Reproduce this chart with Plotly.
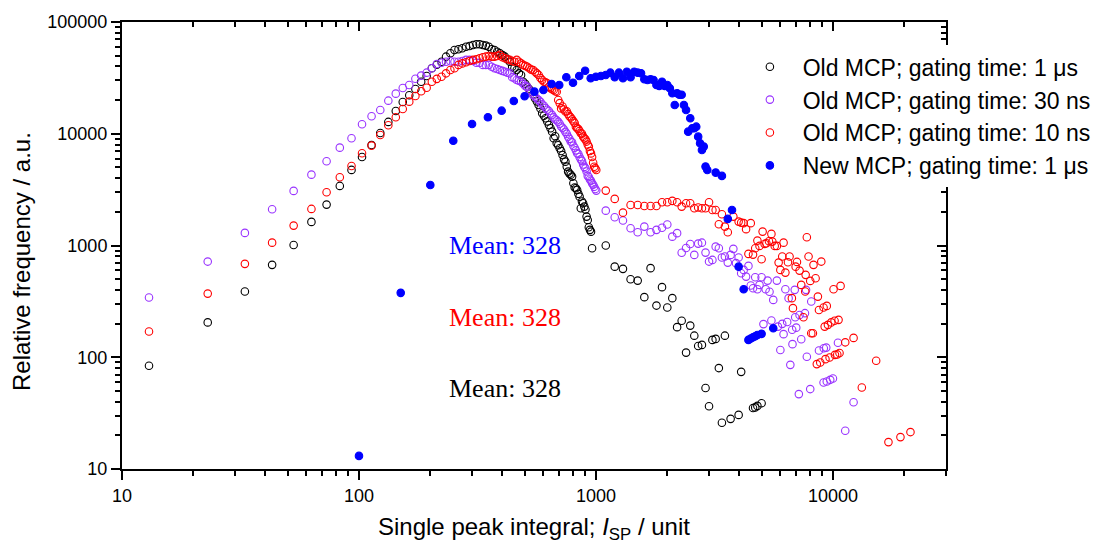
import plotly.graph_objects as go

# ---- Old MCP, gating time 1 us (black open circles) ----
old_1us_x = [13, 23, 33, 43, 53, 63, 73, 83, 93, 103, 113, 123, 133, 143, 153, 163, 173, 183, 193,
             203, 213, 223, 233, 243, 253, 263, 273, 283, 293, 303, 313, 323, 333, 343, 353, 363,
             373, 383, 393, 403, 413, 423, 433, 443, 453, 463, 473, 483, 493, 503, 513, 523, 533,
             543, 553, 563, 573, 583, 593, 603, 613, 623, 633, 643, 653, 663, 673, 683, 693, 703,
             713, 723, 733, 743, 753, 763, 773, 783, 793, 803, 813, 823, 833, 843, 853, 863, 873,
             883, 893, 903, 913, 923, 933, 943, 953, 963,
             1100, 1200, 1300, 1400, 1500, 1600, 1700, 1800, 1900, 2000, 2100, 2200, 2300, 2400,
             2500, 2600, 2700, 2800, 2900, 3000, 3100, 3200, 3300, 3400, 3500, 3700, 4000, 4100,
             4600, 4700, 4800, 5000]
old_1us_y = [84, 205, 387, 671, 1010, 1626, 2323, 3413, 4746, 6200, 7940, 10160, 12760, 16000, 19250,
             22100, 25170, 29240, 32880, 38500, 41500, 44150, 48950, 52480, 56180, 57000, 58200,
             60100, 61000, 62270, 63150, 63150, 62270, 61500, 60100, 57000, 56180, 54250, 52480,
             50500, 48950, 46500, 44150, 39800, 38500, 37220, 34730, 33560, 29240, 28000, 26270,
             25000, 23800, 22500, 20800, 19500, 18100, 16800, 15250, 14500, 13760, 12900, 11990,
             11200, 10440, 9114, 9500, 8225, 7900, 7420, 7000, 6460, 5900, 5630, 5080, 4583, 4400,
             4300, 4134, 3603, 3300, 3250, 3140, 2900, 2737, 2155, 2473, 2388, 2228, 2100, 1814,
             1694, 1455, 1380, 1330, 946,
             1000, 647, 618, 499, 485, 345, 627, 290, 424, 279, 338, 186, 212, 110,
             192, 156, 126, 129, 53, 36.4, 143, 146, 80, 25.9, 156, 28.1, 30.5, 74,
             35.1, 35.6, 36.7, 38.8]

# ---- Old MCP, gating time 30 ns (violet open circles) ----
old_30ns_x = [13, 23, 33, 43, 53, 63, 73, 83, 93, 103, 113, 123, 133, 143, 153, 163, 173, 183, 193,
              203, 213, 223, 233, 243, 253, 263, 273, 283, 293, 303, 313, 323, 333, 343, 353, 363,
              373, 383, 393, 403, 413, 423, 433, 443, 453, 463, 473, 483, 493, 503, 513, 523, 533,
              543, 553, 563, 573, 583, 593, 603, 613, 623, 633, 643, 653, 663, 673, 683, 693, 703,
              713, 723, 733, 743, 753, 763, 773, 783, 793, 803, 813, 823, 833, 843, 853, 863, 873,
              883, 893, 903, 913, 923, 933, 943, 953, 963, 973, 983, 993, 1003,
              1100, 1200, 1300, 1400, 1500, 1600, 1700, 1800, 1900, 2000, 2100, 2200, 2300, 2400,
              2500, 2600, 2700, 2800, 2900, 3000, 3100, 3200, 3300, 3400, 3500, 3600, 3700, 3800,
              3900, 4000, 4100, 4200, 4300, 4400, 4500, 4600, 4700, 4800, 4900, 5000, 5090, 5200,
              5300, 5400, 5500, 5600, 5800, 5860, 6000, 6110, 6190, 6300, 6410, 6500, 6610, 6730,
              6750, 6900, 6930, 7000, 7180, 7230, 7350, 7620, 7700, 7760, 8020, 8100, 8730, 9130,
              9150, 9370, 9420, 9740, 10000, 10500, 11270, 12220]
old_30ns_y = [342, 718, 1297, 2112, 3080, 4307, 5675, 7510, 9116, 12160, 14340, 16320, 19770, 22850,
              25700, 27330, 31100, 33100, 35200, 38500, 42100, 43250, 44150, 44500, 44150, 44150,
              44800, 45800, 45800, 44800, 43250, 43250, 41300, 41300, 41300, 39800, 38500, 38000,
              37200, 36500, 35900, 35200, 34730, 32000, 31350, 30300, 29800, 29240, 28000, 26800,
              26270, 24500, 23500, 22240, 21400, 20700, 20050, 19300, 18300, 17800, 17000, 16400,
              16000, 15200, 14730, 14000, 13500, 13200, 12800, 12300, 11600, 11300, 10900, 10400,
              10000, 9400, 9000, 8500, 8400, 7800, 7500, 7100, 6700, 6600, 6200, 5900, 5700, 5300,
              5050, 4900, 4600, 4200, 4100, 3900, 3800, 3600, 3500, 3350, 3200, 3100,
              2051, 1790, 1672, 1428, 1315, 1476, 1315, 1380, 1440, 1540, 1200, 1290, 860, 950,
              1030, 824, 1040, 1060, 864, 718, 743, 977, 946, 780, 796, 703, 824, 933,
              695, 780, 565, 605, 527, 657, 438, 415, 520, 406, 444, 520, 198, 406,
              485, 385, 213, 326, 485, 188, 116, 199, 161, 406, 207, 338, 85.5, 176,
              131, 401, 228, 184, 46.8, 239, 145, 248, 401, 101, 51.9, 315, 115, 59.4,
              120.5, 122, 60.7, 62.8, 64.6, 135, 22, 39.6]

# ---- Old MCP, gating time 10 ns (red open circles) ----
old_10ns_x = [13, 23, 33, 43, 53, 63, 73, 83, 93, 103, 113, 123, 133, 143, 153, 163, 173, 183, 193,
              203, 213, 223, 233, 243, 253, 263, 273, 283, 293, 303, 313, 323, 333, 343, 353, 363,
              373, 383, 393, 403, 413, 423, 433, 443, 453, 463, 473, 483, 493, 503, 513, 523, 533,
              543, 553, 563, 573, 583, 593, 603, 613, 623, 633, 643, 653, 663, 673, 683, 693, 703,
              713, 723, 733, 743, 753, 763, 773, 783, 793, 803, 813, 823, 833, 843, 853, 863, 873,
              883, 893, 903, 913, 923, 933, 943, 953, 963, 973, 983, 993, 1003,
              1100, 1200, 1300, 1400, 1500, 1600, 1700, 1800, 1900, 2000, 2100, 2200, 2300, 2400,
              2500, 2600, 2700, 2800, 2900, 3000, 3100, 3200, 3300, 3400, 3500, 3600, 3800, 4000,
              4100, 4200, 4300, 4400, 4500, 4600, 4700, 4800, 4900, 5000, 5050, 5150, 5240, 5370,
              5500, 5550, 5680, 5800, 5900, 6000, 6110, 6190, 6300, 6460, 6560, 6710, 6780, 6960,
              7050, 7230, 7350, 7510, 7640, 7670, 7760, 7890, 8020, 8100, 8230, 8280, 8450, 8550,
              8640, 8730, 8840, 8930, 9130, 9230, 9300, 9420, 9525, 9680, 9840, 10060, 10160,
              10200, 10430, 10560, 10660, 10770, 11270, 12220, 13240, 15220, 17150, 19270, 21240]
old_10ns_y = [170, 371, 685, 1061, 1507, 2125, 2997, 4083, 5150, 6690, 7825, 9760, 11910, 14050,
              16660, 19370, 21780, 23990, 25840, 29240, 31000, 32400, 34730, 37220, 38530, 41300,
              42600, 43600, 44800, 45800, 46400, 47400, 48350, 48950, 49660, 49000, 48950, 49660,
              50800, 48350, 47400, 46400, 46000, 44800, 44150, 45800, 44150, 42600, 41300, 40500,
              39800, 38530, 37500, 37220, 35900, 34700, 33560, 31500, 30300, 29240, 28800, 28300,
              26270, 25540, 25000, 24660, 24000, 23800, 20050, 18800, 16860, 17550, 16500, 15800,
              15900, 15000, 14340, 14000, 13500, 12960, 12500, 11570, 11200, 11000, 10600, 10100,
              10000, 9420, 9114, 8900, 8510, 8000, 7670, 7000, 6670, 6200, 5500, 5060, 4900, 4740,
              3098, 2612, 1968, 2307, 2307, 2260, 2260, 2260, 2439, 2439, 2506, 2439, 2228, 2389,
              2389, 2157, 2190, 2157, 2157, 2439, 2081, 2081, 1551, 1905, 1476, 1315, 1814, 1636,
              1603, 1585, 1400, 841, 1585, 829, 946, 1106, 992, 754, 1331, 1033, 1048, 1093,
              1270, 1084, 992, 992, 703, 605, 796, 1061, 572, 709, 796, 338, 275, 647,
              713, 596, 444, 228, 387, 546, 1186, 796, 482, 164, 164, 671, 510, 86.8,
              349, 265, 89.7, 718, 279, 188, 96.2, 288, 195, 99.4, 205, 406, 212,
              105, 106, 216, 109, 435, 136, 149, 53.6, 92.9, 17.4, 19.3, 21.4]

# ---- New MCP, gating time 1 us (blue filled circles) ----
new_1us_x = [100, 150, 200, 250, 300, 350, 400, 450, 500, 550, 600, 650, 700, 750, 800, 850, 900,
             950, 1000, 1050, 1100, 1150, 1200, 1250, 1300, 1350, 1400, 1450, 1500, 1550, 1600,
             1650, 1700, 1750, 1800, 1850, 1900, 1950, 2000, 2050, 2100, 2150, 2200, 2250, 2300,
             2350, 2400, 2450, 2500, 2550, 2600, 2650, 2700, 2750, 2800, 2850, 2900, 2950, 3200,
             3400, 3600, 3750, 4000, 4200, 4400, 4500, 4600, 4700, 4800, 5000, 5600]
new_1us_y = [13.1, 377, 3480, 8670, 12230, 14050, 16090, 19650, 21650, 23810, 24640, 27880, 27330,
             32000, 28640, 32880, 36680, 31350, 32400, 32880, 33560, 35200, 32000, 35200, 31350,
             35900, 32000, 35900, 35200, 34730, 30730, 30300, 30730, 30300, 27330, 26810, 29240,
             26810, 27330, 25540, 23010, 18100, 23010, 22330, 22330, 18100, 16320, 10440, 13760,
             11200, 11200, 11570, 9420, 8220, 7160, 7670, 5080, 4745, 4490, 4195, 1730, 2080,
             647, 406, 143, 147, 151, 154, 158, 162, 182]

series_names = ["Old MCP; gating time: 1 \u03bcs",
                "Old MCP; gating time: 30 ns",
                "Old MCP; gating time: 10 ns",
                "New MCP; gating time: 1 \u03bcs"]
series_colors = ["#000000", "#9933FF", "#FF0000", "#0000FF"]

mean_labels = ["Mean: 328", "Mean: 328", "Mean: 328"]
mean_colors = ["#0000FF", "#FF0000", "#000000"]
mean_ypos = [0.499, 0.340, 0.181]

x_title = "Single peak integral; <i>I</i><sub>SP</sub> / unit"
y_title = "Relative frequency / a.u."

SANS = "Arial, Liberation Sans, sans-serif"
SERIF = "Times New Roman, Liberation Serif, serif"
PAD = "\u00a0\u00a0"
TICK = "black"

fig = go.Figure()
datasets = [(old_1us_x, old_1us_y), (old_30ns_x, old_30ns_y),
            (old_10ns_x, old_10ns_y), (new_1us_x, new_1us_y)]
for i, (xs, ys) in enumerate(datasets):
    filled = i == 3
    fig.add_trace(go.Scatter(
        x=xs, y=ys, mode="markers", name=PAD + series_names[i],
        marker=dict(symbol="circle" if filled else "circle-open",
                    size=7.5, color=series_colors[i],
                    line=dict(width=1.1, color=series_colors[i])),
    ))

# invisible trace so the mirrored frame axes are drawn
fig.add_trace(go.Scatter(x=[None], y=[None], xaxis="x2", yaxis="y2",
                         showlegend=False, hoverinfo="skip"))

xmajor = [10, 100, 1000, 10000]
xminor = [m * d for d in (10, 100, 1000) for m in range(2, 10)] + [20000, 30000]
ymajor = [10, 100, 1000, 10000, 100000]
yminor = [m * d for d in (10, 100, 1000, 10000) for m in range(2, 10)]

xrange_log = [1, 4.4771]
yrange_log = [1, 5]

common = dict(type="log", showgrid=False, zeroline=False, showline=True,
              linecolor="black", linewidth=2, tickcolor=TICK, tickwidth=2, ticklen=9)
minor_out = dict(ticks="outside", ticklen=5, tickwidth=1.5, tickcolor=TICK, showgrid=False)
minor_in = dict(ticks="inside", ticklen=5, tickwidth=1.5, tickcolor=TICK, showgrid=False)

fig.update_layout(
    width=1111, height=545,
    margin=dict(l=122, r=165, t=22, b=76, autoexpand=False),
    paper_bgcolor="white", plot_bgcolor="white",
    font=dict(family=SANS, color="black"),
    xaxis=dict(**common, range=xrange_log, ticks="outside",
               tickvals=xmajor, ticktext=[str(v) for v in xmajor],
               tickfont=dict(size=18, family=SANS, color="black"),
               minor=dict(**minor_out, tickvals=xminor)),
    yaxis=dict(**common, range=yrange_log, ticks="outside",
               tickvals=ymajor, ticktext=[str(v) for v in ymajor],
               tickfont=dict(size=18, family=SANS, color="black"),
               minor=dict(**minor_out, tickvals=yminor)),
    xaxis2=dict(**common, range=xrange_log, overlaying="x", side="top",
                ticks="inside", tickvals=xmajor, showticklabels=False,
                minor=dict(**minor_in, tickvals=xminor)),
    yaxis2=dict(**common, range=yrange_log, overlaying="y", side="right",
                ticks="inside", tickvals=ymajor, showticklabels=False,
                minor=dict(**minor_in, tickvals=yminor)),
    legend=dict(x=0.762, y=0.948, xanchor="left", yanchor="top",
                bgcolor="white", borderwidth=0, tracegroupgap=0,
                font=dict(size=23, family=SANS, color="black")),
    showlegend=True,
)

# axis titles
fig.add_annotation(text=x_title, xref="paper", yref="paper", x=0.5, y=-0.132,
                   showarrow=False, xanchor="center", yanchor="middle",
                   font=dict(size=24, family=SANS, color="black"))
fig.add_annotation(text=y_title, xref="paper", yref="paper", x=-0.1226, y=0.4653,
                   textangle=-90, showarrow=False, xanchor="center", yanchor="middle",
                   font=dict(size=24, family=SANS, color="black"))

for text, color, yp in zip(mean_labels, mean_colors, mean_ypos):
    fig.add_annotation(text=text, xref="paper", yref="paper", x=0.4654, y=yp,
                       showarrow=False, xanchor="center", yanchor="middle",
                       font=dict(size=26, family=SERIF, color=color))

fig.write_html("out.html")
